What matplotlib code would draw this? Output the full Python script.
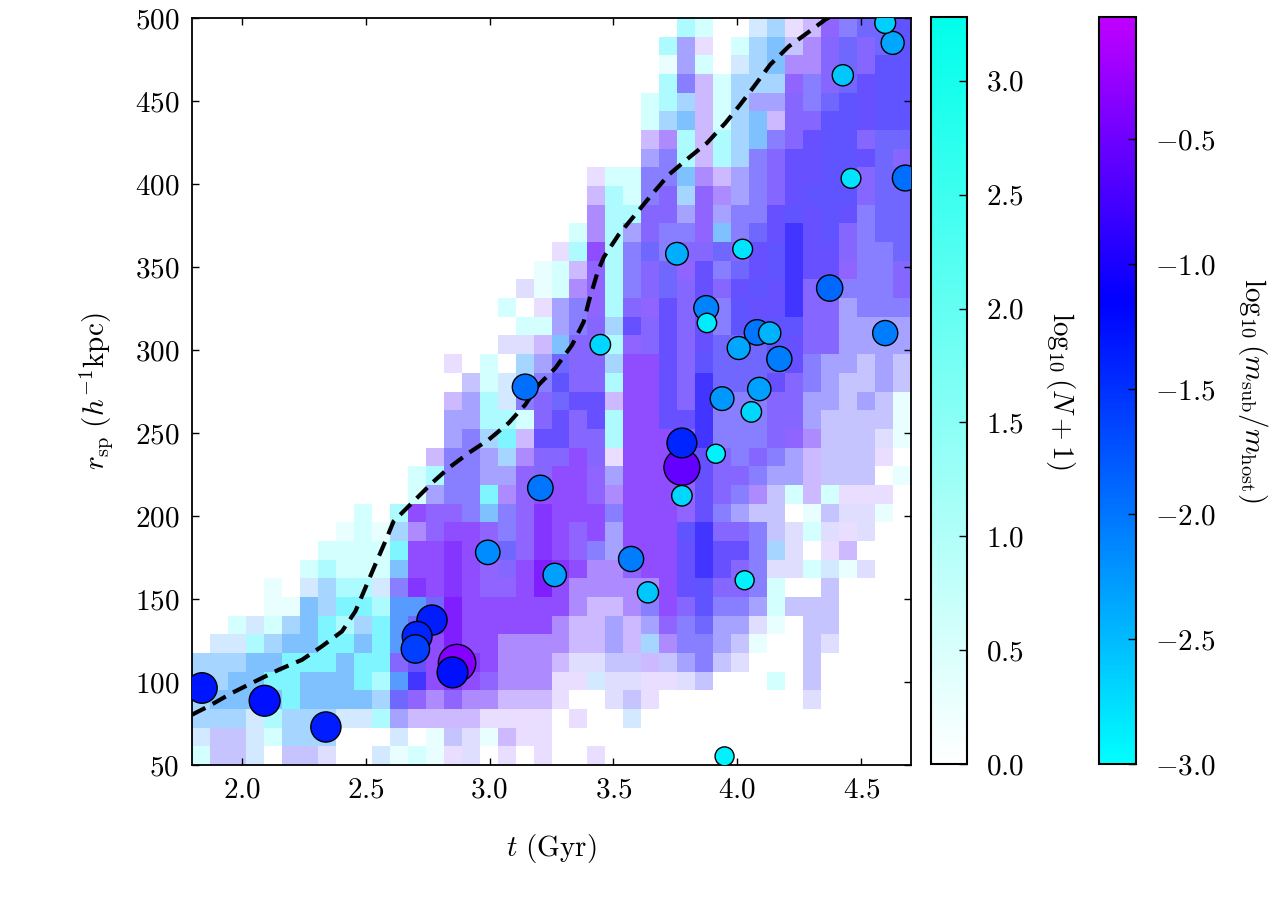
import numpy as np
import matplotlib
matplotlib.use("Agg")
import matplotlib.pyplot as plt
from matplotlib.colors import LinearSegmentedColormap, Normalize
from matplotlib.cm import ScalarMappable

plt.rcParams.update({
    "font.family": "serif",
    "font.serif": ["cmr10", "DejaVu Serif"],
    "mathtext.fontset": "cm",
    "axes.formatter.use_mathtext": True,
    "axes.unicode_minus": True,
    "font.size": 21,
})

# ---------------- data ----------------
# 2D histogram: 40 x 40 cells, t from 1.8 to 4.7 Gyr, r from 50 to 500 kpc/h
t_range = [1.8, 4.7]
r_range = [50.0, 500.0]
n_bins = 40

# cell codes, top row (r ~ 500) first, columns from t = 1.8 to 4.7
cell_grid = [
    "...........................cb..eflmoxyyz",
    "..........................cwl.bfgvnryryz",
    "..........................awb.efgnnryrzz",
    "..........................cxmbfffoxryszz",
    ".........................bcfmbfwwrxyzszz",
    ".........................bfgmbfgmrrzzszz",
    ".........................mncmcfgxrszzryy",
    ".........................wxcmcfxrsszzsyr",
    "......................lbbxxgnmwxrsszzryy",
    "......................mcbxrfonwxrszzzryy",
    "......................nccrrwowxxszszsxyy",
    ".....................bncwrxxogxysZszrxyy",
    "....................lcpcxyxrryrszZssrxxy",
    "...................abmocxryosxyszZssoxxr",
    "..................uabnocxryrsrszsZrrxxxr",
    ".................b.lwxocrosrsxzssZrrwxxx",
    "..................bbwxrfsrsrsxzzzzrrwwww",
    ".................uumgrrcorsrsyyyzsrrwwww",
    "..............l.b.fwyrrfppsrzyyyysxwwvwv",
    "...............vbefxzrrcppsrZyyysrxwvvwv",
    "..............mwcexryssmppsrZxxxrrwwvwva",
    "..............wwccbrsrscppssZxxxrrwvvvva",
    "..............wxfCmssrrcppprZxxxronvvvua",
    ".............mxxwfnrrprlppprsrxrxwmvvvl.",
    "............bcxxwworppowppposrrxwwmvvv.a",
    "............bwxxCnoppponppposrxnvbmblll.",
    ".........b.cpooxgxoqpppxppposxwvv.avuua.",
    "........abafnoppoxoqpopwpppzZrrxvubulu..",
    ".......bbbbCppqpoyoqpoxwpppsZssxfu.lm...",
    "......bcbbbgppqporpQqpnnoppsZsrxuubeau..",
    "....a.efccexqpqpoopQpnnnnnpszrrxb..v....",
    "....aagfCCcGGyQppppppnmmnxprzxxwbvvv....",
    "..bebfgCcfCGyqQpppppnmmwmwoxywwua.vv....",
    ".eecfggCCgCGzpQppnnnnmmwmfnxxwva..vu....",
    "fffggCCCgCCrsppqpnnnmuuvvmvwxvu...v.....",
    "ffggCCgggCcGZpqponnnlleuulluv...b.v.....",
    "fggggCggggfyononnmmml..uvl........u.....",
    "fffecfffeecwmmmmllll.l..e...............",
    "evvebfff...e.avuamll....................",
    "bvve.vvu..eabalu.l.l..l.................",
]

# value of each cell code: log10(N+1) and mean log10(m_sub/m_host)
code_logN = {
    "a": 0.28, "b": 0.56, "c": 1.05, "C": 1.65,
    "e": 0.56, "f": 1.15, "g": 1.65, "G": 2.15,
    "u": 0.42, "v": 0.76, "w": 1.20, "x": 1.65, "y": 1.95, "z": 2.20, "Z": 2.60,
    "l": 0.43, "m": 0.90, "n": 1.50, "o": 2.00, "p": 2.30, "q": 2.60, "Q": 2.90,
    "r": 1.95, "s": 2.25,
}
code_mass = {
    "a": -3.00, "b": -3.00, "c": -2.90, "C": -2.85,
    "e": -2.10, "f": -2.15, "g": -2.10, "G": -1.90,
    "u": -1.08, "v": -1.08, "w": -1.08, "x": -1.06, "y": -1.06, "z": -1.06, "Z": -1.05,
    "l": -0.63, "m": -0.70, "n": -0.68, "o": -0.72, "p": -0.58, "q": -0.55, "Q": -0.50,
    "r": -0.85, "s": -0.95,
}

# individual subhaloes: time (Gyr), radius (kpc/h), log10(m_sub/m_host)
sub_t = [1.840, 2.093, 2.340, 2.701, 2.708, 2.768, 2.869, 2.851, 2.993, 3.144,
         3.205, 3.263, 3.447, 3.571, 3.639, 3.756, 3.776, 3.776, 3.776, 3.874,
         3.877, 3.913, 3.938, 3.948, 4.005, 4.021, 4.029, 4.056, 4.079, 4.088,
         4.130, 4.169, 4.372, 4.425, 4.458, 4.596, 4.596, 4.626, 4.677]
sub_r = [96.4, 88.7, 72.9, 119.9, 127.5, 137.3, 111.4, 105.8, 178.1, 277.7,
         216.9, 164.5, 303.2, 174.1, 154.0, 358.0, 229.3, 244.0, 212.2, 325.3,
         316.3, 237.5, 270.7, 55.2, 301.2, 360.8, 161.3, 262.7, 310.6, 276.5,
         310.2, 294.6, 337.3, 465.5, 403.4, 310.2, 497.0, 485.0, 403.6]
sub_mass = [-1.30, -1.25, -1.35, -1.60, -1.40, -1.35, -0.35, -1.25, -2.15, -1.95,
            -2.00, -2.30, -2.70, -2.05, -2.60, -2.40, -0.55, -1.40, -2.70, -2.10,
            -2.85, -2.90, -2.25, -2.90, -2.35, -2.80, -2.90, -2.70, -2.00, -2.30,
            -2.45, -2.05, -1.90, -2.60, -2.80, -2.05, -2.65, -2.35, -1.95]

# splashback radius track (dashed line)
line_t = [1.80, 1.867, 1.961, 2.055, 2.150, 2.244, 2.324, 2.405, 2.459, 2.499,
          2.539, 2.580, 2.613, 2.768, 2.835, 2.916, 2.997, 3.077, 3.144, 3.198,
          3.265, 3.333, 3.380, 3.400, 3.420, 3.436, 3.461, 3.521, 3.588, 3.655,
          3.723, 3.803, 3.877, 3.951, 4.011, 4.072, 4.132, 4.207, 4.281, 4.354, 4.40]
line_r = [80.3, 85.4, 93.4, 100.4, 107.4, 113.4, 121.5, 130.5, 142.6, 156.6,
          170.7, 184.8, 196.8, 219.9, 228.9, 238.0, 246.0, 256.0, 267.0, 279.0,
          289.0, 303.0, 317.0, 329.0, 339.0, 347.0, 356.0, 369.5, 381.6, 393.7,
          405.6, 415.7, 424.7, 436.7, 447.8, 459.8, 471.9, 482.9, 490.9, 499.0, 503.0]

x_ticks = [2.0, 2.5, 3.0, 3.5, 4.0, 4.5]
y_ticks = [50, 100, 150, 200, 250, 300, 350, 400, 450, 500]
dens_ticks = [0.0, 0.5, 1.0, 1.5, 2.0, 2.5, 3.0]
mass_ticks = [-3.0, -2.5, -2.0, -1.5, -1.0, -0.5]
dens_max = 3.28
mass_min, mass_max = -3.0, -0.01

# ---------------- build grids ----------------
codes = np.array([list(row) for row in cell_grid[::-1]])
logN = np.vectorize(lambda c: code_logN.get(c, 0.0))(codes).astype(float)
mass = np.vectorize(lambda c: code_mass.get(c, np.nan))(codes).astype(float)
mass_m = np.ma.masked_invalid(mass)
alpha = np.clip(logN / dens_max, 0, 1)

t_edges = np.linspace(t_range[0], t_range[1], n_bins + 1)
r_edges = np.linspace(r_range[0], r_range[1], n_bins + 1)

mass_cmap = LinearSegmentedColormap.from_list(
    "mass", [(0.0, (0.0, 1.0, 1.0)), (0.62, (0.0, 0.0, 1.0)), (1.0, (0.75, 0.0, 1.0))])
dens_cmap = LinearSegmentedColormap.from_list("dens", [(1.0, 1.0, 1.0), (0.0, 1.0, 0.92)])
mnorm = Normalize(mass_min, mass_max)
dnorm = Normalize(0.0, dens_max)

# ---------------- figure ----------------
fig = plt.figure(figsize=(12.75, 9), dpi=100)
ax = fig.add_axes([192 / 1275, 135 / 900, 719 / 1275, 747 / 900])
cax1 = fig.add_axes([931 / 1275, 136 / 900, 36 / 1275, 747 / 900])
cax2 = fig.add_axes([1099 / 1275, 136 / 900, 37 / 1275, 747 / 900])

mesh = ax.pcolormesh(t_edges, r_edges, mass_m, cmap=mass_cmap, norm=mnorm,
                     shading="flat", linewidth=0, antialiased=False, zorder=1)
mesh.set_alpha(alpha)

ax.plot(line_t, line_r, color="black", lw=3.0, ls="--", dashes=(3.6, 2.0), zorder=2)

order = np.argsort(sub_mass)[::-1]
st = np.array(sub_t)[order]
sr = np.array(sub_r)[order]
sm = np.array(sub_mass)[order]
rad_px = 9.5 + 3.6 * (sm + 2.9)
sizes = (1.44 * rad_px) ** 2
ax.scatter(st, sr, c=sm, cmap=mass_cmap, norm=mnorm, s=sizes,
           edgecolors="black", linewidths=1.0, zorder=3)

ax.set_xlim(t_range)
ax.set_ylim(r_range)
ax.set_xticks(x_ticks)
ax.set_yticks(y_ticks)
ax.tick_params(direction="in", length=5, width=1, top=True, right=True, pad=9)
for s in ax.spines.values():
    s.set_linewidth(1.3)
ax.set_xlabel(r"$t\ ({\rm Gyr})$", labelpad=20)
ax.set_ylabel(r"$r_{\rm sp}\ (h^{-1}{\rm kpc})$", labelpad=14)

cb1 = fig.colorbar(ScalarMappable(norm=dnorm, cmap=dens_cmap), cax=cax1)
cb1.set_ticks(dens_ticks)
cb2 = fig.colorbar(ScalarMappable(norm=mnorm, cmap=mass_cmap), cax=cax2)
cb2.set_ticks(mass_ticks)
for cb, lab in [(cb1, r"$\log_{10}(N+1)$"), (cb2, r"$\log_{10}(m_{\rm sub}/m_{\rm host})$")]:
    cb.ax.tick_params(direction="in", length=6, width=1, pad=14)
    cb.outline.set_linewidth(1.5)
    cb.ax.set_ylabel(lab, rotation=270, va="bottom", labelpad=14)

fig.savefig("out.png", dpi=100)
